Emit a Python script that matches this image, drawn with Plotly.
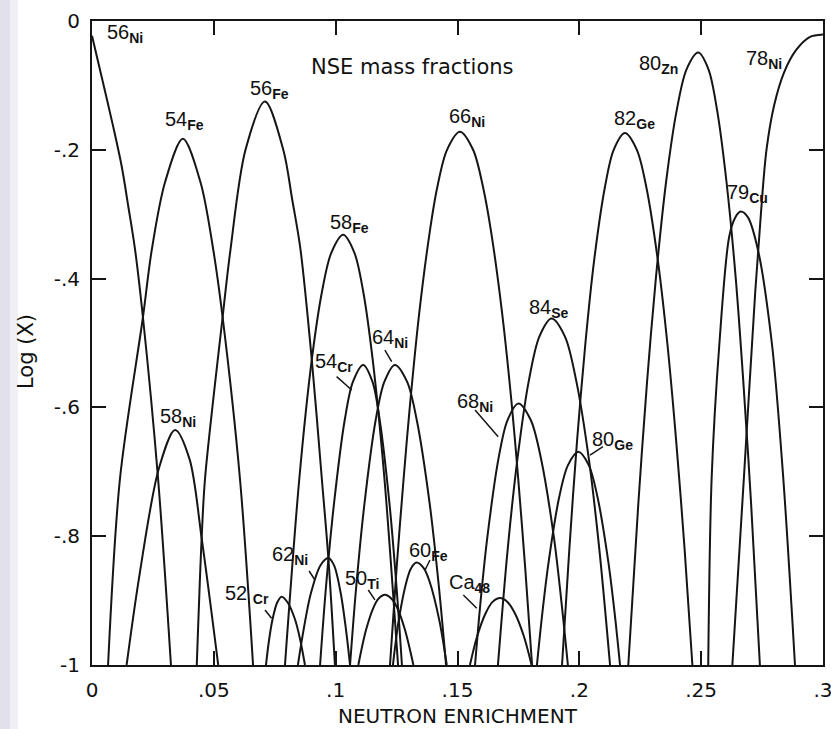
import plotly.graph_objects as go

# ---------------- axes ----------------
x_ticks = [0, 0.05, 0.1, 0.15, 0.2, 0.25, 0.3]
x_tick_labels = ["0", ".05", ".1", ".15", ".2", ".25", ".3"]
y_ticks = [-1, -0.8, -0.6, -0.4, -0.2, 0]
y_tick_labels = ["-1", "-.8", "-.6", "-.4", "-.2", "0"]

# ---------------- curves (neutron enrichment, log X) ----------------
ni56_x = [0.0, 0.0046, 0.0087, 0.0122, 0.0149, 0.0176, 0.0209, 0.0271, 0.0324]
ni56_y = [-0.023, -0.097, -0.164, -0.226, -0.288, -0.353, -0.46, -0.71, -1.0]

fe54_x = [0.0066, 0.0115, 0.0209, 0.0245, 0.0300, 0.0373, 0.0445, 0.0498, 0.0536, 0.0607, 0.0661]
fe54_y = [-1.0, -0.71, -0.46, -0.356, -0.25, -0.183, -0.25, -0.356, -0.46, -0.71, -1.0]

ni58_x = [0.0142, 0.0195, 0.0275, 0.0341, 0.0400, 0.0450, 0.0518]
ni58_y = [-1.0, -0.86, -0.694, -0.635, -0.68, -0.803, -1.0]

fe56_x = [0.043, 0.045, 0.0464, 0.0536, 0.0568, 0.0630, 0.071, 0.0785, 0.0822, 0.0855, 0.0902, 0.0943, 0.0970, 0.0997]
fe56_y = [-1.0, -0.803, -0.71, -0.46, -0.356, -0.2, -0.125, -0.2, -0.278, -0.353, -0.526, -0.71, -0.834, -1.0]

cr52_x = [0.0714, 0.0727, 0.0741, 0.0760, 0.0778, 0.0803, 0.0833, 0.0854, 0.0874]
cr52_y = [-1.0, -0.96, -0.929, -0.903, -0.894, -0.903, -0.929, -0.96, -1.0]

ni62_x = [0.0845, 0.0869, 0.0898, 0.0938, 0.0970, 0.0993, 0.1021, 0.1042, 0.1059]
ni62_y = [-1.0, -0.944, -0.889, -0.845, -0.834, -0.845, -0.889, -0.944, -1.0]

fe58_x = [0.0792, 0.0851, 0.0902, 0.0944, 0.0982, 0.1031, 0.1077, 0.1113, 0.1152, 0.1200, 0.1256]
fe58_y = [-1.0, -0.71, -0.526, -0.42, -0.36, -0.332, -0.36, -0.42, -0.526, -0.71, -1.0]

cr54_x = [0.0936, 0.0960, 0.0993, 0.1037, 0.1071, 0.1113, 0.1151, 0.1181, 0.1221, 0.1250, 0.1272]
cr54_y = [-1.0, -0.88, -0.75, -0.62, -0.56, -0.534, -0.56, -0.62, -0.75, -0.88, -1.0]

ni64_x = [0.1059, 0.1084, 0.1118, 0.1164, 0.1200, 0.1243, 0.1293, 0.1333, 0.1386, 0.1424, 0.1453]
ni64_y = [-1.0, -0.88, -0.75, -0.62, -0.56, -0.534, -0.56, -0.62, -0.75, -0.88, -1.0]

ti50_x = [0.1093, 0.1125, 0.1156, 0.1176, 0.1202, 0.1229, 0.1251, 0.1284, 0.1319]
ti50_y = [-1.0, -0.945, -0.91, -0.897, -0.891, -0.897, -0.91, -0.945, -1.0]

fe60_x = [0.1235, 0.1259, 0.1291, 0.1309, 0.1332, 0.1362, 0.1385, 0.1425, 0.1456]
fe60_y = [-1.0, -0.93, -0.87, -0.85, -0.841, -0.85, -0.87, -0.93, -1.0]

ni66_x = [0.1223, 0.1250, 0.1279, 0.1307, 0.1344, 0.1387, 0.1416, 0.1457, 0.1510,
          0.1564, 0.1606, 0.1637, 0.1682, 0.1722, 0.1749, 0.1778, 0.1806]
ni66_y = [-1.0, -0.85, -0.71, -0.588, -0.45, -0.325, -0.26, -0.2, -0.172,
          -0.2, -0.26, -0.325, -0.45, -0.593, -0.71, -0.85, -1.0]

ca48_x = [0.1551, 0.1581, 0.1615, 0.1644, 0.1674, 0.1705, 0.1736, 0.1772, 0.1804]
ca48_y = [-1.0, -0.955, -0.92, -0.902, -0.896, -0.902, -0.92, -0.955, -1.0]

ni68_x = [0.1572, 0.1595, 0.1623, 0.1668, 0.1705, 0.1750, 0.1801, 0.1843, 0.1895, 0.1926, 0.1953]
ni68_y = [-1.0, -0.9, -0.8, -0.68, -0.62, -0.594, -0.62, -0.68, -0.8, -0.9, -1.0]

se84_x = [0.1666, 0.1706, 0.1746, 0.1792, 0.1836, 0.1886, 0.1941, 0.1988, 0.2039, 0.2082, 0.2126]
se84_y = [-1.0, -0.82, -0.68, -0.56, -0.49, -0.462, -0.49, -0.56, -0.68, -0.82, -1.0]

ge80_x = [0.1826, 0.1848, 0.1874, 0.1917, 0.1953, 0.1996, 0.2039, 0.2075, 0.2119, 0.2145, 0.2167]
ge80_y = [-1.0, -0.92, -0.84, -0.74, -0.69, -0.669, -0.69, -0.74, -0.84, -0.92, -1.0]

ge82_x = [0.1929, 0.1959, 0.1991, 0.2025, 0.2060, 0.2104, 0.2141, 0.2187,
          0.2236, 0.2276, 0.2323, 0.2361, 0.2397, 0.2432, 0.2464]
ge82_y = [-1.0, -0.82, -0.65, -0.5, -0.374, -0.26, -0.2, -0.174,
          -0.2, -0.26, -0.374, -0.5, -0.65, -0.82, -1.0]

zn80_x = [0.2201, 0.2242, 0.2278, 0.2314, 0.2356, 0.2399, 0.2440, 0.2488,
          0.2530, 0.2566, 0.2604, 0.2642, 0.2673, 0.2705, 0.2741]
zn80_y = [-1.0, -0.75, -0.56, -0.4, -0.25, -0.14, -0.075, -0.049,
          -0.075, -0.14, -0.25, -0.4, -0.56, -0.75, -1.0]

cu79_x = [0.2529, 0.2543, 0.2575, 0.2615, 0.2640, 0.2662, 0.2692, 0.2734, 0.2790, 0.2837, 0.2885]
cu79_y = [-1.0, -0.71, -0.5, -0.335, -0.305, -0.296, -0.305, -0.357, -0.5, -0.71, -1.0]

ni78_x = [0.2628, 0.2678, 0.2722, 0.2745, 0.2768, 0.2800, 0.2840, 0.2890, 0.2945, 0.3000]
ni78_y = [-1.0, -0.693, -0.42, -0.30, -0.20, -0.13, -0.08, -0.045, -0.025, -0.021]

curves = [
    (ni56_x, ni56_y), (fe54_x, fe54_y), (ni58_x, ni58_y), (fe56_x, fe56_y),
    (cr52_x, cr52_y), (ni62_x, ni62_y), (fe58_x, fe58_y), (cr54_x, cr54_y),
    (ni64_x, ni64_y), (ti50_x, ti50_y), (fe60_x, fe60_y), (ni66_x, ni66_y),
    (ca48_x, ca48_y), (ni68_x, ni68_y), (se84_x, se84_y), (ge80_x, ge80_y),
    (ge82_x, ge82_y), (zn80_x, zn80_y), (cu79_x, cu79_y), (ni78_x, ni78_y),
]

# ---------------- labels: main part, subscript part ----------------
label_main = ["56", "54", "56", "58", "66", "82", "80", "78", "79", "84",
              "54", "64", "58", "68", "80", "62", "52 ", "50", "60", "Ca"]
label_sub = ["Ni", "Fe", "Fe", "Fe", "Ni", "Ge", "Zn", "Ni", "Cu", "Se",
             "Cr", "Ni", "Ni", "Ni", "Ge", "Ni", "Cr", "Ti", "Fe", "48"]
label_x = [0.0053, 0.0290, 0.0640, 0.0969, 0.1456, 0.2133, 0.2235, 0.2676,
           0.2598, 0.1785, 0.0907, 0.1141, 0.0271, 0.1490, 0.2044, 0.0730,
           0.0538, 0.1030, 0.1291, 0.1456]
label_y = [-0.020, -0.155, -0.107, -0.315, -0.150, -0.153, -0.0675, -0.0605,
           -0.2686, -0.446, -0.531, -0.493, -0.615, -0.593, -0.652, -0.830,
           -0.891, -0.868, -0.824, -0.874]

title_text = "NSE mass fractions"

# leader lines (label -> curve)
leader_x0 = [0.1004, 0.1202, 0.1572, 0.2097, 0.0891, 0.0710, 0.1134, 0.1387, 0.1524]
leader_y0 = [-0.5523, -0.5109, -0.604, -0.661, -0.854, -0.9146, -0.8835, -0.837, -0.8913]
leader_x1 = [0.1066, 0.1230, 0.1667, 0.2044, 0.0915, 0.0737, 0.1161, 0.1367, 0.1579]
leader_y1 = [-0.573, -0.529, -0.6455, -0.674, -0.868, -0.9275, -0.899, -0.8525, -0.912]

LINE = "#151515"
LABEL_FONT = "Liberation Sans"
TEXT_FONT = "DejaVu Sans"

fig = go.Figure()
for cx, cy in curves:
    fig.add_trace(go.Scatter(x=cx, y=cy, mode="lines",
                             line=dict(color=LINE, width=2, shape="spline", smoothing=0.9),
                             showlegend=False, hoverinfo="skip"))

annotations = []
for m, s, x, y in zip(label_main, label_sub, label_x, label_y):
    txt = m + "<sub><b>" + s + "</b></sub>"
    annotations.append(dict(x=x, y=y, xref="x", yref="y", text=txt, showarrow=False,
                            xanchor="left", yanchor="middle",
                            font=dict(family=LABEL_FONT, size=20, color="#111")))
annotations.append(dict(x=0.1313, y=-0.0714, xref="x", yref="y", text=title_text,
                        showarrow=False, xanchor="center", yanchor="middle",
                        font=dict(family=TEXT_FONT, size=21, color="#111")))
annotations.append(dict(x=0.5, y=-0.079, xref="paper", yref="paper", text="NEUTRON ENRICHMENT",
                        showarrow=False, xanchor="center", yanchor="middle",
                        font=dict(family=TEXT_FONT, size=20, color="#111")))
annotations.append(dict(x=-0.0903, y=0.4876, xref="paper", yref="paper", text="Log (X)",
                        showarrow=False, xanchor="center", yanchor="middle", textangle=-90,
                        font=dict(family=TEXT_FONT, size=21, color="#111")))

shapes = []
for x0, y0, x1, y1 in zip(leader_x0, leader_y0, leader_x1, leader_y1):
    shapes.append(dict(type="line", xref="x", yref="y", x0=x0, y0=y0, x1=x1, y1=y1,
                       line=dict(color=LINE, width=1.5)))
# scanned-page tint at the left edge
shapes.append(dict(type="rect", xref="paper", yref="paper", x0=-0.1259, x1=-0.1122, y0=-0.2, y1=1.2,
                   fillcolor="#e2e0ea", line=dict(width=0), layer="below"))
shapes.append(dict(type="rect", xref="paper", yref="paper", x0=-0.1122, x1=-0.1012, y0=-0.2, y1=1.2,
                   fillcolor="#f0eff5", line=dict(width=0), layer="below"))

axis_common = dict(showgrid=False, zeroline=False, showline=True, linecolor=LINE, linewidth=2,
                   mirror="allticks", ticks="inside", ticklen=14, tickwidth=2, tickcolor=LINE,
                   tickfont=dict(family=TEXT_FONT, size=20, color="#111"), automargin=False,
                   ticklabeloverflow="allow")

fig.update_layout(
    width=831, height=729, autosize=False,
    margin=dict(l=92, r=8, t=21, b=64, autoexpand=False),
    paper_bgcolor="white", plot_bgcolor="white",
    xaxis=dict(range=[0, 0.3], tickvals=x_ticks, ticktext=x_tick_labels,
               ticklabelstandoff=6, **axis_common),
    yaxis=dict(range=[-1, 0], tickvals=y_ticks, ticktext=y_tick_labels,
               ticklabelstandoff=6, **axis_common),
    annotations=annotations, shapes=shapes,
)

# drop the browser's default 8 px body margin so the figure sits at the page origin
fig.write_html("out.html", config={"displayModeBar": False, "responsive": False},
               post_script="document.body.style.margin='0px';document.body.style.overflow='hidden';")
